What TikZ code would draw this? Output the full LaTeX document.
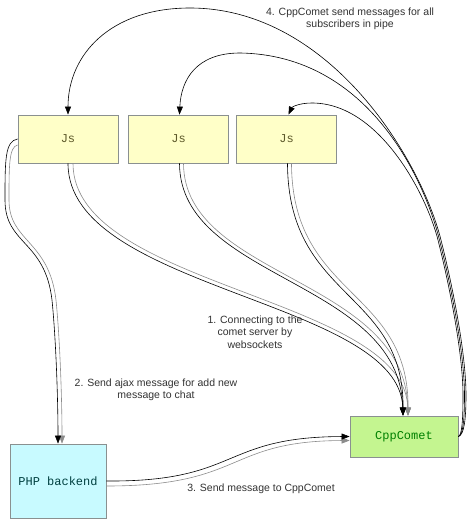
\documentclass[tikz,border=0pt]{standalone}
\usepackage{fontspec}
\setmainfont{Liberation Sans}
\newfontfamily\monofnt{Liberation Mono}
\usetikzlibrary{arrows.meta}
\definecolor{jsfill}{HTML}{FFFFC8}
\definecolor{phpfill}{HTML}{C8FAFF}
\definecolor{cometfill}{HTML}{C4F590}
\definecolor{boxline}{HTML}{8A9090}
\definecolor{lblcol}{HTML}{333333}
\definecolor{greyline}{HTML}{8C8C8C}
\begin{document}
\begin{tikzpicture}[x=1pt,y=-1pt,
  box/.style={draw=boxline, line width=0.8pt, inner sep=0pt, font=\monofnt\fontsize{12}{14}\selectfont},
  jsbox/.style={box, fill=jsfill, minimum width=100pt, minimum height=48pt, text=black!45!olive},
  conn/.style={draw=black, line width=0.6pt, -{Triangle[length=8pt,width=6pt]}},
  conng/.style={draw=greyline, line width=0.6pt, -{Triangle[length=8pt,width=6pt]}},
  lbl/.style={align=center, text=lblcol, font=\fontsize{10.5}{12.5}\selectfont, inner sep=0pt}]
\useasboundingbox (0,0) rectangle (468,525);
\fill[white] (0,0) rectangle (468,525);

\node[jsbox] (js1) at (68,139) {Js};
\node[jsbox] (js2) at (178.5,139) {Js};
\node[jsbox] (js3) at (286.5,139) {Js};
\node[box, fill=phpfill, minimum width=96pt, minimum height=74pt, text=black!50!teal] (php) at (58,481) {PHP backend};
\node[box, fill=cometfill, minimum width=108pt, minimum height=41pt, text=black!50!green] (comet) at (404,436.5) {CppComet};

% 1. Js -> CppComet
\draw[conng] ([xshift=5pt]js1.south) .. controls (73,287) and (405,297) .. ([xshift=4pt]comet.north);
\draw[conn] (js1.south) .. controls (68,290) and (400,300) .. ([xshift=-1pt]comet.north);
\draw[conng] ([xshift=5pt]js2.south) .. controls (184,278) and (405,278) .. ([xshift=4pt]comet.north);
\draw[conn] ([xshift=1pt]js2.south) .. controls (180,280) and (400,280) .. ([xshift=-1pt]comet.north);
\draw[conng] ([xshift=5pt]js3.south) .. controls (292,298) and (409,288) .. ([xshift=4pt]comet.north);
\draw[conn] ([xshift=1pt]js3.south) .. controls (288,300) and (404,290) .. ([xshift=-1pt]comet.north);

% 2. Js -> PHP
\draw[conng] ([yshift=-6pt]js1.west) .. controls (9,147) and (9,165) .. (9,200)
  .. controls (9,242) and (49,240) .. (56,300) .. controls (60,340) and (62,400) .. ([xshift=4pt]php.north);
\draw[conn] (js1.west) .. controls (5,141) and (5,160) .. (5,200)
  .. controls (5,245) and (45,240) .. (52,300) .. controls (56,340) and (58,400) .. (php.north);

% 3. PHP -> CppComet
\draw[conng] ([yshift=-5pt]php.east) .. controls (245,486) and (225,441) .. ([yshift=-4pt]comet.west);
\draw[conn] (php.east) .. controls (240,482) and (220,437) .. (comet.west);

% 4. CppComet -> Js
\draw[conn] (comet.east) .. controls (464,435) and (466,420) .. (466,395)
  .. controls (466,360) and (456,300) .. (441,240)
  .. controls (421,160) and (330,8) .. (190,8)
  .. controls (110,8) and (68,55) .. (js1.north);
\draw[conn] (comet.east) .. controls (463,435) and (464.5,420) .. (464.5,395)
  .. controls (464.5,360) and (454.5,300) .. (439.5,240)
  .. controls (425,182) and (370,55) .. (240,53)
  .. controls (196,53) and (181,80) .. ([xshift=1pt]js2.north);
\draw[conn] (comet.east) .. controls (462,435) and (463,420) .. (463,395)
  .. controls (463,360) and (453,300) .. (438,240)
  .. controls (427,196) and (380,103) .. (312,103)
  .. controls (299,103) and (292,107) .. ([xshift=2pt]js3.north);

% labels
\node[lbl] (l4) at (350,19) {4. CppComet send messages for all\\subscribers in pipe};
\node[lbl] (l1) at (255,332) {1. Connecting to the\\comet server by\\websockets};
\node[lbl] (l2) at (156,390) {2. Send ajax message for add new\\message to chat};
\node[lbl] (l3) at (261,489) {3. Send message to CppComet};
\end{tikzpicture}
\end{document}
